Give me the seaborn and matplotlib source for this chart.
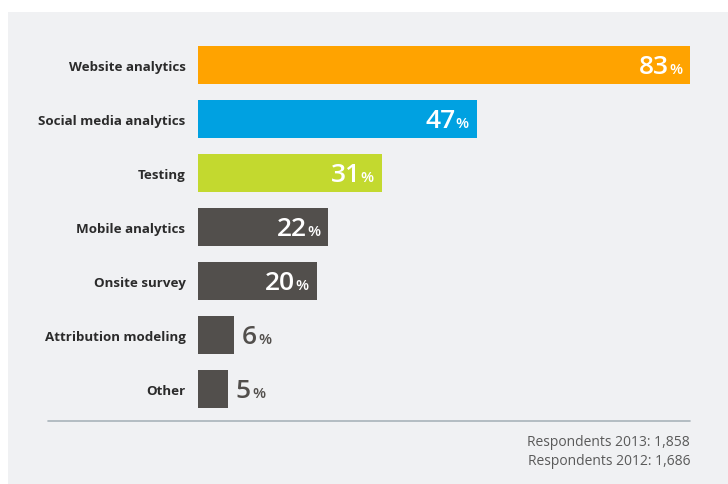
import matplotlib
matplotlib.use("Agg")
import matplotlib.pyplot as plt
import seaborn as sns
import pandas as pd
from matplotlib.patches import Rectangle
from matplotlib.transforms import offset_copy

sns.set_theme(style="white")
plt.rcParams['font.family'] = ['Open Sans', 'DejaVu Sans']

# data
categories = ["Website analytics", "Social media analytics", "Testing",
              "Mobile analytics", "Onsite survey", "Attribution modeling", "Other"]
values = [83, 47, 31, 22, 20, 6, 5]
bar_colors = ["#FFA300", "#00A1E1", "#C3D92F", "#524F4C", "#524F4C", "#524F4C", "#524F4C"]
footer = ["Respondents 2013: 1,858", "Respondents 2012: 1,686"]

df = pd.DataFrame({"category": categories, "value": values})

W, H = 728, 485
fig = plt.figure(figsize=(W / 100, H / 100), dpi=100)
fig.patch.set_facecolor("white")

# gray panel behind everything
fig.patches.append(Rectangle((8 / W, -0.01), 1, (H - 13) / H + 0.01, transform=fig.transFigure,
                             facecolor="#F0F1F3", edgecolor="none", zorder=0))

# axes: x 0..83 maps to px 198..690, rows centred at 66..390
ax = fig.add_axes([198 / W, 1 - 417 / H, (690 - 198) / W, (417 - 39) / H])
ax.set_zorder(2)
ax.set_facecolor("none")
sns.barplot(data=df, y="category", x="value", hue="category", palette=bar_colors,
            orient="h", width=0.7, saturation=1, legend=False, ax=ax,
            edgecolor="none", linewidth=0)
ax.set_xlim(0, max(values))
ax.set_ylim(len(values) - 0.5, -0.5)
ax.set_xlabel("")
ax.set_ylabel("")
ax.set_xticks([])
for s in ax.spines.values():
    s.set_visible(False)
ax.tick_params(axis="y", length=0, pad=9)
for lbl in ax.get_yticklabels():
    lbl.set_fontweight("bold")
    lbl.set_fontsize(9.6)
    lbl.set_color("#2B2B2B")

fig.canvas.draw()
renderer = fig.canvas.get_renderer()
for i, v in enumerate(values):
    inside = v > 10
    col = "white" if inside else "#524F4C"
    if inside:
        tp = offset_copy(ax.transData, fig=fig, x=-8, y=-8, units="dots")
        pct = ax.text(v, i, "%", transform=tp, ha="right", va="baseline",
                      fontsize=11, fontweight="semibold", color=col)
        w = pct.get_window_extent(renderer).width
        tn = offset_copy(ax.transData, fig=fig, x=-8 - w, y=-8, units="dots")
        ax.text(v, i, str(v), transform=tn, ha="right", va="baseline",
                fontsize=19, fontweight="semibold", color=col)
    else:
        tn = offset_copy(ax.transData, fig=fig, x=8, y=-8, units="dots")
        num = ax.text(v, i, str(v), transform=tn, ha="left", va="baseline",
                      fontsize=19, fontweight="semibold", color=col)
        w = num.get_window_extent(renderer).width
        tp = offset_copy(ax.transData, fig=fig, x=8 + w + 1.5, y=-8, units="dots")
        ax.text(v, i, "%", transform=tp, ha="left", va="baseline",
                fontsize=11, fontweight="semibold", color=col)

# separator line and footer
fig.add_artist(plt.Line2D([48 / W, 690 / W], [1 - 422 / H, 1 - 422 / H],
                          transform=fig.transFigure, color="#A9B3BA", lw=1.2))
for k, t in enumerate(footer):
    fig.text(690 / W, 1 - (446 + 19 * k) / H, t, ha="right", va="baseline",
             fontsize=10, color="#5A5A5A")

fig.savefig("out.png", dpi=100)
